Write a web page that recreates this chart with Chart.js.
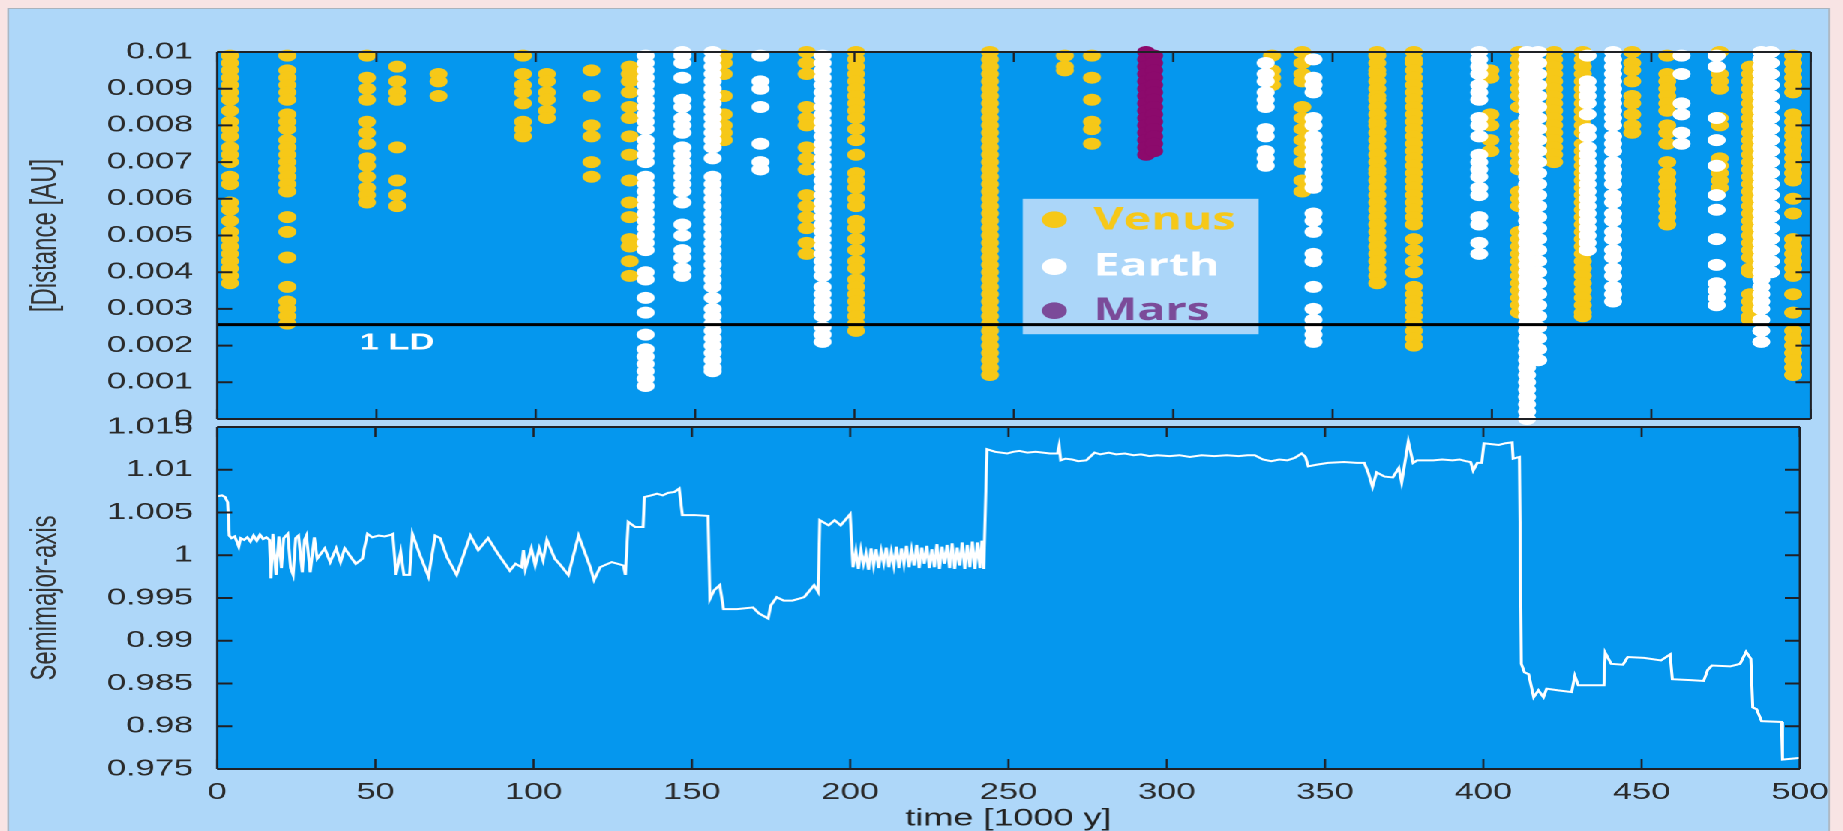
<!DOCTYPE html>
<html>
<head>
<meta charset="utf-8">
<title>Close encounters and semimajor axis</title>
<script src="https://cdn.jsdelivr.net/npm/chart.js@4.4.1/dist/chart.umd.min.js"></script>
<style>
  html, body { margin: 0; padding: 0; overflow: hidden; }
  body { width: 1843px; height: 831px; background: #f8e4e4; }
  /* the figure is laid out narrow and widened 1.5x, like the original plot */
  #stage { position: absolute; left: 0; top: 0; width: 1228.667px; height: 831px; transform: scaleX(1.5); transform-origin: 0 0; }
  #panel { position: absolute; left: 5.333px; top: 8px; width: 1215px; height: 830px; background: #aed7f9; border: 1px solid #a9b3bd; box-sizing: border-box; }
  .box { position: absolute; left: 0; width: 1228.667px; }
  #topBox { top: 0; height: 460px; }
  #bottomBox { top: 380px; height: 451px; }
</style>
</head>
<body>
<div id="stage">
  <div id="panel"></div>
  <div class="box" id="topBox"><canvas id="distChart"></canvas></div>
  <div class="box" id="bottomBox"><canvas id="semiChart"></canvas></div>
</div>
<script>
// ---- axis ticks ----
const timeTicks = [0, 50, 100, 150, 200, 250, 300, 350, 400, 450, 500];
const timeTickLabels = ['0', '50', '100', '150', '200', '250', '300', '350', '400', '450', '500'];
const distTicks = [0, 0.001, 0.002, 0.003, 0.004, 0.005, 0.006, 0.007, 0.008, 0.009, 0.01];
const distTickLabels = ['0', '0.001', '0.002', '0.003', '0.004', '0.005', '0.006', '0.007', '0.008', '0.009', '0.01'];
const semiTicks = [0.975, 0.98, 0.985, 0.99, 0.995, 1, 1.005, 1.01, 1.015];
const semiTickLabels = ['0.975', '0.98', '0.985', '0.99', '0.995', '1', '1.005', '1.01', '1.015'];

// lunar distance in AU
const lunarDistance = 0.00257;

// ---- close approaches: time of each episode [1000 y] and the distances [AU] ----
const venusTimes = [4, 22, 47, 56.5, 69.5, 96, 103.5, 117.5, 129.5, 159, 185, 200.5, 242.5, 266, 274.5,
  331, 340.5, 364, 375.5, 399.5, 408.5, 419.5, 428.5, 444, 455, 471.5, 481, 494.5];
const venusDist = [
  [0.0099,0.0097,0.0095,0.0093,0.0091,0.0089,0.0087,0.0084,0.0081,0.0079,0.0077,0.0074,0.0072,0.0070,0.0066,0.0064,0.0059,0.0057,0.0054,0.0051,0.0049,0.0047,0.0045,0.0043,0.0041,0.0039,0.0037],
  [0.0099,0.0095,0.0093,0.0091,0.0089,0.0087,0.0083,0.0081,0.0079,0.0076,0.0074,0.0072,0.0070,0.0068,0.0066,0.0064,0.0062,0.0055,0.0051,0.0044,0.0036,0.0032,0.0030,0.0028,0.0026],
  [0.0099,0.0093,0.0090,0.0087,0.0081,0.0078,0.0075,0.0071,0.0069,0.0066,0.0063,0.0061,0.0059],
  [0.0096,0.0092,0.0089,0.0087,0.0074,0.0065,0.0061,0.0058],
  [0.0094,0.0092,0.0088],
  [0.0099,0.0094,0.0091,0.0089,0.0086,0.0081,0.0079,0.0077],
  [0.0094,0.0092,0.0089,0.0087,0.0084,0.0082],
  [0.0095,0.0088,0.0080,0.0077,0.0070,0.0066],
  [0.0096,0.0094,0.0092,0.0089,0.0085,0.0082,0.0077,0.0072,0.0065,0.0059,0.0055,0.0049,0.0047,0.0043,0.0039],
  [0.0099,0.0097,0.0094,0.0088,0.0083,0.0080,0.0078,0.0076],
  [0.0100,0.0097,0.0094,0.0085,0.0082,0.0080,0.0074,0.0071,0.0068,0.0061,0.0058,0.0055,0.0052,0.0048,0.0045],
  [0.0100,0.0098,0.0096,0.0094,0.0092,0.0090,0.0088,0.0086,0.0084,0.0082,0.0079,0.0076,0.0072,0.0067,0.0065,0.0063,0.0060,0.0058,0.0054,0.0052,0.0049,0.0046,0.0043,0.0041,0.0038,0.0036,0.0034,0.0032,0.0030,0.0028,0.0026,0.0024],
  [0.0100,0.0098,0.0096,0.0094,0.0092,0.0090,0.0088,0.0086,0.0084,0.0082,0.0080,0.0078,0.0076,0.0074,0.0072,0.0070,0.0068,0.0066,0.0064,0.0062,0.0060,0.0058,0.0056,0.0054,0.0052,0.0050,0.0048,0.0046,0.0044,0.0042,0.0040,0.0038,0.0036,0.0034,0.0032,0.0030,0.0028,0.0026,0.0024,0.0022,0.0020,0.0018,0.0016,0.0014,0.0012],
  [0.0099,0.0096,0.0095],
  [0.0099,0.0093,0.0087,0.0081,0.0079,0.0075],
  [0.0099,0.0095,0.0093,0.0091],
  [0.0100,0.0097,0.0094,0.0092,0.0085,0.0082,0.0079,0.0076,0.0073,0.0070,0.0065,0.0062],
  [0.0100,0.0099,0.0097,0.0095,0.0094,0.0092,0.0090,0.0088,0.0087,0.0085,0.0083,0.0081,0.0080,0.0078,0.0076,0.0074,0.0072,0.0070,0.0068,0.0067,0.0065,0.0063,0.0061,0.0059,0.0057,0.0055,0.0053,0.0051,0.0049,0.0047,0.0045,0.0043,0.0041,0.0039,0.0037],
  [0.0100,0.0098,0.0097,0.0095,0.0093,0.0091,0.0089,0.0087,0.0085,0.0083,0.0081,0.0079,0.0077,0.0075,0.0073,0.0071,0.0069,0.0067,0.0065,0.0063,0.0061,0.0059,0.0057,0.0055,0.0053,0.0049,0.0046,0.0043,0.0040,0.0036,0.0034,0.0032,0.0030,0.0028,0.0026,0.0024,0.0022,0.0020],
  [0.0095,0.0093,0.0083,0.0080,0.0076,0.0073],
  [0.0100,0.0098,0.0096,0.0094,0.0092,0.0090,0.0088,0.0085,0.0080,0.0078,0.0076,0.0074,0.0072,0.0070,0.0068,0.0062,0.0060,0.0058,0.0051,0.0049,0.0047,0.0045,0.0043,0.0041,0.0039,0.0037,0.0035,0.0033,0.0031,0.0029],
  [0.0100,0.0098,0.0096,0.0094,0.0092,0.0090,0.0088,0.0086,0.0084,0.0082,0.0080,0.0078,0.0076,0.0074,0.0072,0.0070],
  [0.0100,0.0098,0.0096,0.0094,0.0092,0.0090,0.0088,0.0086,0.0084,0.0082,0.0080,0.0078,0.0075,0.0073,0.0071,0.0069,0.0067,0.0065,0.0063,0.0061,0.0059,0.0057,0.0055,0.0053,0.0051,0.0049,0.0047,0.0045,0.0043,0.0041,0.0039,0.0037,0.0035,0.0033,0.0031,0.0029,0.0028],
  [0.0100,0.0097,0.0095,0.0092,0.0088,0.0086,0.0083,0.0080,0.0078],
  [0.0099,0.0094,0.0092,0.0090,0.0088,0.0086,0.0084,0.0080,0.0078,0.0075,0.0070,0.0067,0.0065,0.0063,0.0061,0.0059,0.0057,0.0055,0.0053],
  [0.0100,0.0094,0.0092,0.0090,0.0082,0.0080,0.0071,0.0069,0.0067,0.0065,0.0063],
  [0.0096,0.0094,0.0092,0.0090,0.0088,0.0086,0.0084,0.0082,0.0080,0.0078,0.0076,0.0074,0.0072,0.0070,0.0068,0.0066,0.0064,0.0062,0.0060,0.0058,0.0056,0.0054,0.0052,0.0050,0.0048,0.0046,0.0044,0.0041,0.0040,0.0034,0.0032,0.0030,0.0028,0.0027],
  [0.0099,0.0097,0.0095,0.0093,0.0091,0.0089,0.0083,0.0081,0.0079,0.0077,0.0075,0.0073,0.0071,0.0069,0.0067,0.0065,0.0060,0.0056,0.0049,0.0047,0.0045,0.0043,0.0041,0.0039,0.0034,0.0029,0.0024,0.0022,0.0020,0.0018,0.0016,0.0014,0.0012]
];

const earthTimes = [134.5, 146, 155.5, 170.5, 190, 329, 344, 396, 411, 414.5, 430, 438, 459.5, 470.5, 484.5, 487.5];
const earthDist = [
  [0.0099,0.0097,0.0095,0.0093,0.0091,0.0089,0.0087,0.0085,0.0083,0.0081,0.0079,0.0076,0.0074,0.0072,0.0070,0.0066,0.0064,0.0062,0.0060,0.0058,0.0056,0.0054,0.0052,0.0050,0.0048,0.0046,0.0040,0.0038,0.0033,0.0029,0.0023,0.0019,0.0017,0.0015,0.0013,0.0011,0.0009],
  [0.0100,0.0099,0.0097,0.0093,0.0087,0.0085,0.0082,0.0080,0.0078,0.0074,0.0072,0.0070,0.0068,0.0066,0.0064,0.0062,0.0059,0.0053,0.0050,0.0046,0.0044,0.0041,0.0039],
  [0.0100,0.0098,0.0096,0.0094,0.0092,0.0090,0.0088,0.0086,0.0084,0.0082,0.0080,0.0078,0.0076,0.0074,0.0071,0.0066,0.0064,0.0062,0.0060,0.0058,0.0056,0.0054,0.0052,0.0050,0.0048,0.0046,0.0044,0.0042,0.0040,0.0038,0.0036,0.0033,0.0030,0.0028,0.0026,0.0024,0.0022,0.0020,0.0018,0.0016,0.0014,0.0013],
  [0.0099,0.0092,0.0090,0.0085,0.0075,0.0070,0.0068],
  [0.0099,0.0097,0.0095,0.0093,0.0091,0.0089,0.0087,0.0085,0.0083,0.0081,0.0079,0.0077,0.0075,0.0073,0.0071,0.0069,0.0067,0.0065,0.0063,0.0061,0.0059,0.0057,0.0055,0.0053,0.0051,0.0049,0.0047,0.0045,0.0043,0.0041,0.0039,0.0036,0.0034,0.0032,0.0030,0.0028,0.0025,0.0023,0.0021],
  [0.0097,0.0094,0.0092,0.0089,0.0087,0.0085,0.0079,0.0077,0.0073,0.0071,0.0069],
  [0.0098,0.0093,0.0091,0.0089,0.0082,0.0080,0.0077,0.0075,0.0073,0.0071,0.0069,0.0067,0.0065,0.0063,0.0056,0.0054,0.0051,0.0045,0.0043,0.0036,0.0030,0.0027,0.0025,0.0023,0.0021],
  [0.0100,0.0098,0.0096,0.0094,0.0091,0.0089,0.0087,0.0082,0.0080,0.0077,0.0072,0.0070,0.0068,0.0066,0.0063,0.0061,0.0055,0.0053,0.0048,0.0045],
  [0.0100,0.0098,0.0096,0.0094,0.0092,0.0090,0.0088,0.0086,0.0084,0.0082,0.0080,0.0078,0.0076,0.0074,0.0072,0.0070,0.0068,0.0066,0.0064,0.0062,0.0060,0.0058,0.0056,0.0054,0.0052,0.0050,0.0048,0.0046,0.0044,0.0042,0.0040,0.0038,0.0036,0.0034,0.0032,0.0030,0.0028,0.0026,0.0024,0.0022,0.0020,0.0018,0.0016,0.0014,0.0012,0.0010,0.0008,0.0006,0.0004,0.0002,0.0000],
  [0.0100,0.0097,0.0094,0.0091,0.0088,0.0085,0.0082,0.0079,0.0076,0.0073,0.0070,0.0067,0.0064,0.0061,0.0058,0.0055,0.0052,0.0049,0.0046,0.0043,0.0040,0.0037,0.0034,0.0031,0.0028,0.0025,0.0022,0.0019,0.0016],
  [0.0099,0.0092,0.0090,0.0088,0.0086,0.0083,0.0079,0.0077,0.0074,0.0072,0.0070,0.0068,0.0066,0.0064,0.0062,0.0060,0.0058,0.0056,0.0054,0.0052,0.0050,0.0048,0.0046],
  [0.0100,0.0098,0.0096,0.0094,0.0092,0.0090,0.0088,0.0086,0.0084,0.0082,0.0080,0.0077,0.0075,0.0073,0.0070,0.0068,0.0066,0.0064,0.0061,0.0059,0.0056,0.0054,0.0051,0.0049,0.0046,0.0044,0.0041,0.0039,0.0036,0.0034,0.0032],
  [0.0099,0.0094,0.0086,0.0083,0.0078,0.0075],
  [0.0099,0.0096,0.0082,0.0076,0.0069,0.0061,0.0057,0.0049,0.0042,0.0037,0.0035,0.0033,0.0031],
  [0.0100,0.0098,0.0096,0.0094,0.0092,0.0090,0.0088,0.0086,0.0084,0.0082,0.0080,0.0078,0.0076,0.0074,0.0072,0.0070,0.0068,0.0066,0.0064,0.0062,0.0060,0.0058,0.0056,0.0054,0.0052,0.0050,0.0048,0.0046,0.0044,0.0042,0.0040,0.0038,0.0036,0.0034,0.0032,0.0030,0.0027,0.0024,0.0021],
  [0.0100,0.0097,0.0094,0.0091,0.0088,0.0085,0.0082,0.0079,0.0076,0.0073,0.0070,0.0067,0.0064,0.0061,0.0058,0.0055,0.0052,0.0049,0.0046,0.0043,0.0040]
];

const marsTimes = [291.5, 294];
const marsDist = [
  [0.0100,0.0098,0.0096,0.0094,0.0092,0.0090,0.0088,0.0086,0.0084,0.0082,0.0080,0.0078,0.0076,0.0074,0.0072],
  [0.0099,0.0097,0.0095,0.0093,0.0091,0.0089,0.0087,0.0085,0.0083,0.0081,0.0079,0.0077,0.0075,0.0073]
];

// ---- semimajor axis [AU] over time [1000 y] ----
const semiTime = [
  0, 1.5, 2.5, 3.3, 3.8, 4.5, 5.5, 6.2, 6.8, 7.4, 8.5, 9.5, 10.5, 11.5, 12.5, 13.5, 14.5, 15.5, 16.5, 17.0,
  17.6, 18.6, 19.5, 20.3, 21.0, 22.3, 23.2, 24.0, 24.8, 25.7, 26.9, 27.6, 28.2, 29.4, 30.7, 31.6, 32.8, 34.0, 35.7, 37.6,
  39.0, 40.3, 42.2, 43.8, 45.9, 46.5, 47.5, 49.0, 51.0, 53.0, 55.0, 55.5, 56.5, 58.0, 59.0, 60.8, 61.7, 63.9, 66.8, 68.9,
  70.5, 72.6, 75.7, 80.0, 82.5, 85.6, 88.7, 92.5, 94.3, 96.2, 96.8, 97.4, 99.3, 100.5, 101.8, 103.0, 104.2, 106.7, 108.6, 111.0,
  114.2, 116.7, 117.9, 119.1, 121.0, 124.7, 128.4, 129.0, 129.9, 132.1, 134.6, 135.0, 137.1, 139.0, 140.8, 142.5, 144.5, 146.0, 147.0, 150.8,
  155.1, 155.7, 157.0, 158.8, 160.0, 164.3, 169.3, 171.2, 174.1, 174.9, 176.8, 179.0, 181.8, 185.5, 188.6, 189.9, 190.4, 193.2, 195.1, 197.0,
  200.0, 200.9, 201.8, 202.6, 203.4, 204.2, 205.0, 205.8, 206.6, 207.4, 208.2, 209.0, 209.8, 210.6, 211.4, 212.2, 213.0, 213.8, 214.6, 215.4,
  216.2, 217.0, 217.8, 218.6, 219.4, 220.2, 221.0, 221.8, 222.6, 223.4, 224.2, 225.0, 225.8, 226.6, 227.4, 228.2, 229.0, 229.8, 230.6, 231.4,
  232.2, 233.0, 233.8, 234.6, 235.4, 236.2, 237.0, 237.8, 238.6, 239.4, 240.2, 241.0, 241.6, 242.2, 243.2, 245.8, 249.6, 251.5, 253.5, 256.0,
  258.6, 263.1, 265.5, 266.0, 266.5, 268.0, 270.1, 272.0, 274.6, 277.2, 279.0, 281.7, 284.0, 286.8, 289.5, 291.9, 294.5, 297.0, 300.9, 304.0,
  307.3, 311.0, 315.0, 319.0, 322.7, 325.5, 327.8, 330.4, 333.0, 335.5, 338.1, 340.5, 342.6, 343.8, 344.7, 347.5, 350.9, 356.0, 360.0, 362.4,
  363.7, 365.0, 366.3, 368.8, 371.4, 373.3, 374.2, 376.3, 377.8, 379.1, 384.2, 387.0, 390.3, 392.5, 394.5, 396.0, 396.8, 398.1, 399.5, 400.2,
  402.5, 404.9, 407.0, 409.1, 409.4, 411.4, 412.0, 413.0, 414.3, 415.9, 417.4, 419.0, 420.0, 423.7, 427.9, 428.9, 430.0, 434.1, 438.1, 438.5,
  440.4, 444.1, 445.6, 450.8, 456.1, 459.0, 459.7, 465.5, 469.6, 470.9, 472.2, 478.0, 481.1, 483.0, 484.5, 485.1, 486.3, 487.9, 494.2, 494.5,
  500.0
];
const semiAxis = [
  1.0069, 1.0070, 1.0068, 1.0062, 1.0023, 1.0020, 1.0022, 1.0016, 1.0010, 1.0020, 1.0018, 1.0021, 1.0016, 1.0023, 1.0017, 1.0024, 1.0019, 1.0021, 1.0018, 0.9973,
  1.0025, 0.9977, 1.0022, 0.9985, 1.0020, 1.0025, 0.9985, 0.9977, 1.0020, 1.0023, 0.9980, 1.0018, 1.0023, 0.9980, 1.0021, 0.9996, 1.0002, 1.0008, 0.9992, 1.0008,
  0.9992, 1.0008, 0.9998, 0.9990, 0.9996, 1.0008, 1.0025, 1.0021, 1.0023, 1.0022, 1.0024, 1.0025, 0.9977, 1.0004, 0.9977, 0.9977, 1.0025, 1.0002, 0.9975, 1.0023,
  1.0020, 0.9998, 0.9977, 1.0023, 1.0006, 1.0020, 1.0002, 0.9982, 0.9990, 0.9986, 1.0006, 0.9984, 1.0008, 0.9988, 1.0008, 0.9994, 1.0018, 0.9996, 0.9988, 0.9977,
  1.0023, 0.9998, 0.9986, 0.9971, 0.9986, 0.9992, 0.9988, 0.9977, 1.0039, 1.0033, 1.0033, 1.0068, 1.0070, 1.0072, 1.0070, 1.0073, 1.0074, 1.0078, 1.0047, 1.0047,
  1.0046, 0.9949, 0.9959, 0.9965, 0.9937, 0.9937, 0.9939, 0.9932, 0.9926, 0.9941, 0.9951, 0.9947, 0.9947, 0.9951, 0.9965, 0.9957, 1.0041, 1.0035, 1.0041, 1.0035,
  1.0048, 0.9986, 1.0005, 0.9984, 1.0006, 0.9990, 1.0002, 0.9983, 1.0008, 0.9988, 1.0007, 0.9985, 1.0005, 0.9991, 1.0009, 0.9986, 1.0004, 0.9988, 1.0010, 0.9985,
  1.0008, 0.9990, 1.0011, 0.9986, 1.0006, 0.9988, 1.0012, 0.9985, 1.0009, 0.9990, 1.0011, 0.9985, 1.0007, 0.9986, 1.0013, 0.9984, 1.0010, 0.9990, 1.0012, 0.9985,
  1.0014, 0.9984, 1.0009, 0.9988, 1.0015, 0.9984, 1.0012, 0.9986, 1.0016, 0.9984, 1.0015, 0.9985, 1.0017, 0.9984, 1.0124, 1.0121, 1.0119, 1.0121, 1.0122, 1.0120,
  1.0121, 1.0119, 1.0119, 1.0128, 1.0111, 1.0113, 1.0112, 1.0110, 1.0111, 1.0120, 1.0118, 1.0120, 1.0118, 1.0119, 1.0117, 1.0118, 1.0116, 1.0117, 1.0116, 1.0117,
  1.0115, 1.0117, 1.0116, 1.0117, 1.0116, 1.0117, 1.0117, 1.0112, 1.0110, 1.0112, 1.0111, 1.0114, 1.0119, 1.0115, 1.0104, 1.0106, 1.0108, 1.0109, 1.0108, 1.0108,
  1.0096, 1.0080, 1.0097, 1.0092, 1.0091, 1.0102, 1.0085, 1.0133, 1.0108, 1.0111, 1.0111, 1.0112, 1.0111, 1.0112, 1.0110, 1.0109, 1.0099, 1.0108, 1.0108, 1.0131,
  1.0130, 1.0129, 1.0131, 1.0132, 1.0113, 1.0115, 0.9873, 0.9863, 0.9861, 0.9834, 0.9842, 0.9834, 0.9844, 0.9842, 0.9840, 0.9859, 0.9848, 0.9848, 0.9848, 0.9886,
  0.9873, 0.9872, 0.9881, 0.9880, 0.9877, 0.9884, 0.9855, 0.9854, 0.9853, 0.9866, 0.9871, 0.9870, 0.9873, 0.9887, 0.9879, 0.9822, 0.9820, 0.9806, 0.9805, 0.9761,
  0.9763
];

// ---- colours ----
const plotBlue = '#0597ee';
const frameColor = '#1f2126';
const venusColor = '#f6c818';
const earthColor = '#ffffff';
const marsColor = '#8c0a6c';
const legendMars = '#7b4b99';

Chart.defaults.font.family = '"Liberation Sans", Arial, Helvetica, sans-serif';
Chart.defaults.color = '#2a2a2a';

function columnsToPoints(times, dists) {
  const pts = [];
  times.forEach((t, i) => dists[i].forEach(d => pts.push({ x: t, y: d })));
  return pts;
}

// blue plot background, plot frame and inward tick marks on all four sides
const framePlugin = {
  id: 'frame',
  beforeDatasetsDraw(chart) {
    const { ctx, chartArea: a } = chart;
    ctx.save();
    ctx.fillStyle = plotBlue;
    ctx.fillRect(a.left, a.top, a.right - a.left, a.bottom - a.top);
    ctx.restore();
  },
  afterDatasetsDraw(chart) {
    const { ctx, chartArea: a, scales } = chart;
    ctx.save();
    ctx.strokeStyle = frameColor;
    ctx.lineWidth = 2;
    scales.y.ticks.forEach(t => {
      const y = scales.y.getPixelForValue(t.value);
      ctx.beginPath();
      ctx.moveTo(a.left, y); ctx.lineTo(a.left + 10, y);
      ctx.moveTo(a.right - 10, y); ctx.lineTo(a.right, y);
      ctx.stroke();
    });
    ctx.lineWidth = 1.4;
    timeTicks.forEach(v => {
      const x = scales.x.getPixelForValue(v);
      ctx.beginPath();
      ctx.moveTo(x, a.top); ctx.lineTo(x, a.top + 10);
      ctx.moveTo(x, a.bottom - 10); ctx.lineTo(x, a.bottom);
      ctx.stroke();
    });
    // frame: horizontal edges a bit heavier than the (widened) vertical ones
    ctx.lineWidth = 2;
    ctx.beginPath();
    ctx.moveTo(a.left, a.top); ctx.lineTo(a.right, a.top);
    ctx.moveTo(a.left, a.bottom); ctx.lineTo(a.right, a.bottom);
    ctx.stroke();
    ctx.lineWidth = 1.5;
    ctx.beginPath();
    ctx.moveTo(a.left, a.top); ctx.lineTo(a.left, a.bottom);
    ctx.moveTo(a.right, a.top); ctx.lineTo(a.right, a.bottom);
    ctx.stroke();
    ctx.restore();
  }
};

// legend box and the "1 LD" note inside the distance panel
const legendRows = [
  { label: 'Venus', color: venusColor, d: 0.00543, base: 0.00516 },
  { label: 'Earth', color: earthColor, d: 0.00415, base: 0.00391 },
  { label: 'Mars', color: legendMars, d: 0.00295, base: 0.00270 }
];
const distOverlay = {
  id: 'distOverlay',
  beforeDatasetsDraw(chart) {
    const { ctx } = chart;
    const x = chart.scales.x, y = chart.scales.y;
    const left = x.getPixelForValue(252.8), right = x.getPixelForValue(326.8);
    const top = y.getPixelForValue(0.0060), bottom = y.getPixelForValue(0.00231);
    ctx.save();
    ctx.fillStyle = '#abd6f9';
    ctx.fillRect(left, top, right - left, bottom - top);
    ctx.font = 'bold 31px "Open Sans", "Liberation Sans", sans-serif';
    ctx.textAlign = 'left';
    ctx.textBaseline = 'alphabetic';
    legendRows.forEach(r => {
      ctx.fillStyle = r.color;
      ctx.beginPath();
      ctx.arc(x.getPixelForValue(262.7), y.getPixelForValue(r.d), 8.3, 0, Math.PI * 2);
      ctx.fill();
      ctx.fillText(r.label, x.getPixelForValue(275), y.getPixelForValue(r.base));
    });
    ctx.restore();
  },
  afterDatasetsDraw(chart) {
    const { ctx } = chart;
    const x = chart.scales.x, y = chart.scales.y;
    ctx.save();
    ctx.fillStyle = '#ffffff';
    ctx.font = 'bold 23px "Liberation Sans", Arial, sans-serif';
    ctx.textAlign = 'left';
    ctx.textBaseline = 'alphabetic';
    ctx.fillText('1 LD', x.getPixelForValue(44.7), y.getPixelForValue(0.0019));
    ctx.restore();
  }
};

const yAxisWidth = 134.667;
const axisTitleFont = { family: '"Liberation Sans", Arial, sans-serif', size: 24 };

function dotSet(label, pts, color) {
  return {
    label, data: pts, backgroundColor: color, borderWidth: 0,
    pointRadius: 6, pointHoverRadius: 6, clip: false
  };
}

new Chart(document.getElementById('distChart'), {
  type: 'scatter',
  data: {
    datasets: [
      {
        type: 'line', label: '1 LD',
        data: [{ x: 0, y: lunarDistance }, { x: 500, y: lunarDistance }],
        borderColor: '#000000', borderWidth: 3, pointRadius: 0, clip: false
      },
      dotSet('Earth', columnsToPoints(earthTimes, earthDist), earthColor),
      dotSet('Venus', columnsToPoints(venusTimes, venusDist), venusColor),
      dotSet('Mars', columnsToPoints(marsTimes, marsDist), marsColor)
    ]
  },
  options: {
    responsive: true,
    maintainAspectRatio: false,
    animation: false,
    devicePixelRatio: 2,
    events: [],
    layout: { padding: { left: 10, right: 22, top: 52, bottom: 41 } },
    plugins: { legend: { display: false }, tooltip: { enabled: false } },
    scales: {
      x: { type: 'linear', min: 0, max: 500, display: false },
      y: {
        type: 'linear', min: 0, max: 0.01,
        afterBuildTicks: s => { s.ticks = distTicks.map(v => ({ value: v })); },
        afterFit: s => { s.width = yAxisWidth; },
        grid: { display: false, drawTicks: false },
        border: { display: false },
        ticks: { padding: 16, autoSkip: false, font: { size: 23 }, callback: (v, i) => distTickLabels[i] },
        title: { display: true, text: '[Distance [AU]', color: '#333333', font: axisTitleFont, padding: { top: 6, bottom: 0 } }
      }
    }
  },
  plugins: [framePlugin, distOverlay]
});

new Chart(document.getElementById('semiChart'), {
  type: 'line',
  data: {
    datasets: [{
      label: 'Semimajor-axis',
      data: semiTime.map((t, i) => ({ x: t, y: semiAxis[i] })),
      borderColor: '#ffffff', borderWidth: 2, pointRadius: 0, tension: 0
    }]
  },
  options: {
    responsive: true,
    maintainAspectRatio: false,
    animation: false,
    devicePixelRatio: 2,
    events: [],
    layout: { padding: { left: 10, right: 22, top: 47, bottom: 0 } },
    plugins: { legend: { display: false }, tooltip: { enabled: false } },
    scales: {
      x: {
        type: 'linear', min: 0, max: 500,
        afterBuildTicks: s => { s.ticks = timeTicks.map(v => ({ value: v })); },
        afterFit: s => { s.height = 62; },
        grid: { display: false, drawTicks: false },
        border: { display: false },
        ticks: { padding: 10, autoSkip: false, maxRotation: 0, font: { size: 23 }, callback: (v, i) => timeTickLabels[i] },
        title: {
          display: true, text: 'time [1000 y]', color: '#222222',
          font: { size: 24, lineHeight: 1.0 }, padding: { top: 0, bottom: 0 }
        }
      },
      y: {
        type: 'linear', min: 0.975, max: 1.015,
        afterBuildTicks: s => { s.ticks = semiTicks.map(v => ({ value: v })); },
        afterFit: s => { s.width = yAxisWidth; },
        grid: { display: false, drawTicks: false },
        border: { display: false },
        ticks: { padding: 16, autoSkip: false, font: { size: 23 }, callback: (v, i) => semiTickLabels[i] },
        title: { display: true, text: 'Semimajor-axis', color: '#333333', font: axisTitleFont, padding: { top: 6, bottom: 0 } }
      }
    }
  },
  plugins: [framePlugin]
});
</script>
</body>
</html>
